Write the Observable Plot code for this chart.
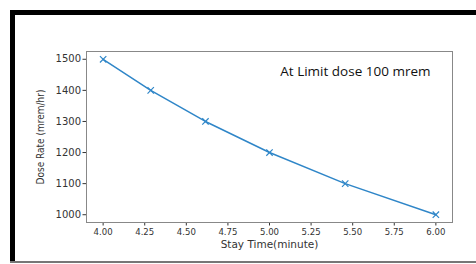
<!DOCTYPE html>
<html>
<head>
<meta charset="utf-8">
<script src="https://cdn.jsdelivr.net/npm/d3@7"></script>
<script src="https://cdn.jsdelivr.net/npm/@observablehq/plot@0.6"></script>
<style>
  html, body { margin: 0; padding: 0; background: #fff; }
  #wrap { position: relative; width: 476px; height: 264px; overflow: hidden; background: #fff; }
  #wrap svg { position: absolute; left: 0; top: 0; }
  .bl { position: absolute; left: 10px; top: 10px; width: 5px; height: 252px; background: #000; }
  .bt { position: absolute; left: 10px; top: 10px; width: 470px; height: 5px; background: #000; }
  .bb { position: absolute; left: 10px; top: 261px; width: 470px; height: 2px; background: #777; }
  #wrap svg g[aria-label="y-axis tick label"] text { font-family: "DejaVu Sans"; font-size: 10px; }
  #wrap svg g[aria-label="x-axis tick label"] text { font-family: "DejaVu Sans Condensed", "DejaVu Sans"; font-size: 9.5px; }
</style>
</head>
<body>
<div id="wrap"><div class="bl"></div><div class="bt"></div><div class="bb"></div></div>
<script>
const stayTime = [4.00, 4.286, 4.615, 5.00, 5.455, 6.00];
const doseRate = [1500, 1400, 1300, 1200, 1100, 1000];
const xTicks = [4.00, 4.25, 4.50, 4.75, 5.00, 5.25, 5.50, 5.75, 6.00];
const yTicks = [1000, 1100, 1200, 1300, 1400, 1500];
const annotation = "At Limit dose 100 mrem";
const xLabel = "Stay Time(minute)";
const yLabel = "Dose Rate (mrem/hr)";

const data = stayTime.map((t, i) => ({t, r: doseRate[i]}));
const blue = "#2f86c8";

const chart = Plot.plot({
  width: 476,
  height: 264,
  marginLeft: 86,
  marginRight: 24,
  marginTop: 51,
  marginBottom: 42,
  style: {fontFamily: "DejaVu Sans", fontSize: "10px", color: "#333", background: "transparent"},
  x: {domain: [3.9, 6.1], ticks: xTicks, tickFormat: d => d.toFixed(2), tickSize: 3.5, tickPadding: 2, label: null},
  y: {domain: [975, 1525], ticks: yTicks, tickFormat: d => String(d), tickSize: 3.5, tickPadding: 2, label: null},
  marks: [
    Plot.frame({stroke: "#888", strokeWidth: 1}),
    Plot.line(data, {x: "t", y: "r", stroke: blue, strokeWidth: 1.5}),
    Plot.dot(data, {x: "t", y: "r", symbol: "times", stroke: blue, r: 3, strokeWidth: 1.2}),
    Plot.text([annotation], {frameAnchor: "top-right", dx: -22, dy: 15, text: d => d, fontFamily: "Open Sans", fontSize: 13.5, fill: "#111"}),
    Plot.text([xLabel], {frameAnchor: "bottom", dy: 25, text: d => d, fontFamily: "DejaVu Sans", fontSize: 10.5, fill: "#333"}),
    Plot.text([yLabel], {frameAnchor: "left", dx: -46, rotate: -90, textAnchor: "middle", text: d => d, fontSize: 10, fill: "#333", fontFamily: "DejaVu Sans Condensed, DejaVu Sans"})
  ]
});
document.getElementById("wrap").prepend(chart);
</script>
</body>
</html>
